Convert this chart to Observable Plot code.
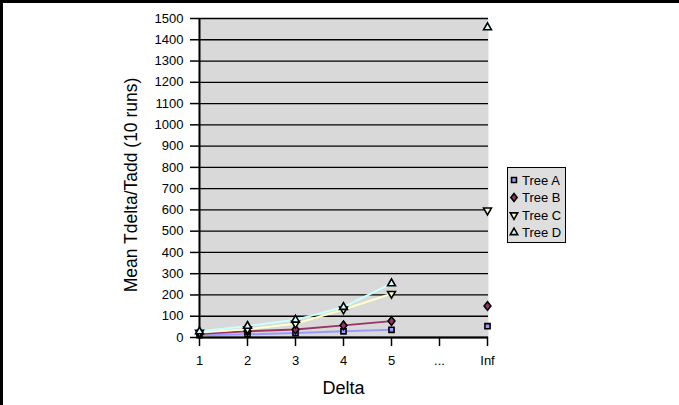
<!DOCTYPE html>
<html>
<head>
<meta charset="utf-8">
<script src="https://cdn.jsdelivr.net/npm/d3@7"></script>
<script src="https://cdn.jsdelivr.net/npm/@observablehq/plot@0.6"></script>
<style>
  html, body { margin: 0; padding: 0; background: #fff; }
  #wrap { position: relative; width: 679px; height: 405px; overflow: hidden; font-family: "Liberation Sans", Arial, sans-serif; }
  #wrap svg { position: absolute; left: 0; top: 0; }
  .bt { position: absolute; left: 0; top: 0; width: 679px; height: 3px; background: #000; }
  .bl { position: absolute; left: 0; top: 0; width: 3px; height: 405px; background: #000; }
  #legend { position: absolute; left: 507px; top: 167px; width: 57px; height: 74px; border: 1.5px solid #000; background: #dedede; }
</style>
</head>
<body>
<div id="wrap"></div>
<script>
// ---- data ----
const deltas = ["1", "2", "3", "4", "5", "...", "Inf"];
const seriesNames = ["Tree A", "Tree B", "Tree C", "Tree D"];
const treeA = [11, 15, 21, 29, 36, null, 53];
const treeB = [18, 29, 38, 57, 77, null, 148];
const treeC = [23, 39, 65, 132, 206, null, 598];
const treeD = [28, 54, 83, 143, 254, null, 1458];
const yTicks = [0, 100, 200, 300, 400, 500, 600, 700, 800, 900, 1000, 1100, 1200, 1300, 1400, 1500];
const colors = ["#9999ff", "#993366", "#ffffcc", "#ccffff"];
const yTitle = "Mean Tdelta/Tadd (10 runs)";
const xTitle = "Delta";

const seriesValues = [treeA, treeB, treeC, treeD];
const rows = [];
seriesNames.forEach((name, i) => {
  deltas.forEach((d, j) => {
    const v = seriesValues[i][j];
    if (v != null) rows.push({series: name, delta: d, value: v, inLine: d !== "Inf"});
  });
});

const triangleDown = {
  draw(context, size) {
    const sqrt3 = Math.sqrt(3);
    const y = -Math.sqrt(size / (sqrt3 * 3));
    context.moveTo(0, -y * 2);
    context.lineTo(-sqrt3 * y, y);
    context.lineTo(sqrt3 * y, y);
    context.closePath();
  }
};
const diamond = {
  draw(context, size) {
    const h = Math.sqrt(size) * 0.8;
    const w = h * 0.8;
    context.moveTo(0, -h);
    context.lineTo(w, 0);
    context.lineTo(0, h);
    context.lineTo(-w, 0);
    context.closePath();
  }
};
const symbols = [d3.symbolSquare, diamond, triangleDown, d3.symbolTriangle];
const radii = [2.9, 3.0, 2.9, 2.9];

const marks = [
  Plot.frame({fill: "#d9d9d9"}),
  Plot.ruleY(yTicks, {stroke: "#000", strokeWidth: 1.3}),
  Plot.axisY({ticks: yTicks, tickSize: 8, tickPadding: 7, label: null, fontSize: 13, strokeWidth: 1.5, tickFormat: d => String(d)}),
  Plot.axisX({tickSize: 9, tickPadding: 9, label: null, fontSize: 13, strokeWidth: 1.5}),
  Plot.text([yTitle], {frameAnchor: "left", textAnchor: "middle", lineAnchor: "middle", dx: -67, dy: 7, rotate: -90, fontSize: 17.5, fill: "#000"}),
  Plot.text([xTitle], {frameAnchor: "bottom", lineAnchor: "middle", dy: 51, fontSize: 18, fill: "#000"}),
  Plot.ruleX(["1"], {stroke: "#000", strokeWidth: 2}),
  Plot.ruleY([0], {stroke: "#000", strokeWidth: 2})
];
seriesNames.forEach((name, i) => {
  marks.push(Plot.line(rows.filter(r => r.series === name && r.inLine), {
    x: "delta", y: "value", stroke: colors[i], strokeWidth: 2
  }));
});
seriesNames.forEach((name, i) => {
  marks.push(Plot.dot(rows.filter(r => r.series === name), {
    x: "delta", y: "value", symbol: symbols[i], r: radii[i], fill: colors[i], stroke: "#000", strokeWidth: 1.6
  }));
});

const chart = Plot.plot({
  width: 679,
  height: 405,
  marginLeft: 198,
  marginRight: 191,
  marginTop: 18,
  marginBottom: 68,
  style: {fontFamily: "'Liberation Sans', Arial, sans-serif", color: "#000", background: "transparent", overflow: "visible"},
  x: {type: "point", domain: deltas, padding: 0, label: null},
  y: {domain: [0, 1500], label: null},
  marks
});

const wrap = document.getElementById("wrap");
wrap.appendChild(chart);
const bt = document.createElement("div"); bt.className = "bt"; wrap.appendChild(bt);
const bl = document.createElement("div"); bl.className = "bl"; wrap.appendChild(bl);

// legend
const leg = document.createElement("div");
leg.id = "legend";
const ns = "http://www.w3.org/2000/svg";
const lsvg = document.createElementNS(ns, "svg");
lsvg.setAttribute("width", 57);
lsvg.setAttribute("height", 74);
lsvg.style.position = "absolute";
lsvg.style.left = "0px";
lsvg.style.top = "0px";
seriesNames.forEach((name, i) => {
  const cy = 12 + i * 17.5;
  const p = document.createElementNS(ns, "path");
  p.setAttribute("d", d3.symbol(symbols[i], 24)());
  p.setAttribute("transform", `translate(6,${cy})`);
  p.setAttribute("fill", colors[i]);
  p.setAttribute("stroke", "#000");
  p.setAttribute("stroke-width", 1.6);
  lsvg.appendChild(p);
  const t = document.createElementNS(ns, "text");
  t.setAttribute("x", 14);
  t.setAttribute("y", cy);
  t.setAttribute("dy", "0.35em");
  t.setAttribute("font-size", 13);
  t.setAttribute("font-family", "'Liberation Sans', Arial, sans-serif");
  t.textContent = name;
  lsvg.appendChild(t);
});
leg.appendChild(lsvg);
wrap.appendChild(leg);
</script>
</body>
</html>
